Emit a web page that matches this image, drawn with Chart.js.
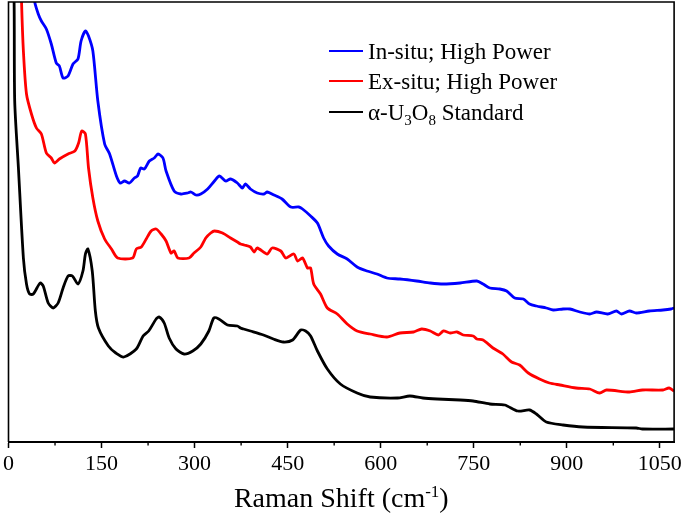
<!DOCTYPE html>
<html>
<head>
<meta charset="utf-8">
<script src="https://cdn.jsdelivr.net/npm/chart.js@4.4.1/dist/chart.umd.min.js"></script>
<style>
  html, body { margin:0; padding:0; background:#fff; }
  #wrap { width:685px; height:517px; }
</style>
</head>
<body>
<div id="wrap"><canvas id="chart" width="685" height="517"></canvas></div>
<script>
// Raman shift (cm-1) and intensity (arb. units)
const insituX = [30,42,48,53,61,69,77,82,88,96,104,112,117,124,129,136,144,155,163,174,180,187,195,203,208,213,219,227,235,241,249,254,267,278,289,294,302,310,321,332,340,350,358,369,377,382,390,401,412,417,428,441,455,468,474,487,498,508,516,530,546,562,578,594,610,631,658,680,701,728,755,765,776,792,803,816,830,840,851,867,878,894,905,921,937,948,966,980,988,1001,1012,1033,1055,1068,1073];
const insituY = [520,441,428,421,413,398,379,376,364,366,378,383,401,411,406,391,341,298,288,266,259,261,259,264,266,274,273,281,284,288,284,271,251,248,249,250,247,248,253,261,266,261,263,259,254,258,253,249,248,250,247,243,235,235,233,226,219,204,196,188,183,175,171,168,164,163,161,159,158,159,161,158,154,153,151,144,143,138,136,134,132,133,133,130,128,130,128,131,128,131,129,131,132,133,134];

const exsituX = [18,21,24,29,37,45,53,61,69,74,82,96,107,113,118,124,129,136,144,155,166,176,200,206,214,222,230,238,246,254,262,267,273,291,299,310,318,326,332,345,358,369,374,380,390,396,401,417,425,439,447,460,466,474,482,487,492,503,514,530,546,562,583,610,631,653,666,680,693,701,712,723,733,749,755,765,781,797,811,824,838,856,872,889,915,937,953,964,1001,1022,1055,1065,1073];
const exsituY = [520,441,391,348,328,314,308,289,284,279,283,288,291,299,311,308,274,244,221,203,193,184,184,193,195,203,211,213,208,201,189,191,184,184,189,195,204,209,211,209,204,200,198,197,195,190,194,188,194,191,184,188,181,184,174,174,158,148,134,128,118,111,108,105,109,110,113,111,107,111,109,110,107,106,103,102,94,88,80,77,69,63,59,57,54,53,49,52,50,52,52,54,51];

const standardX = [4,9,10,16,24,29,34,40,51,56,64,72,80,88,96,103,112,120,124,128,135,140,145,161,173,186,206,217,226,238,243,251,259,270,283,297,310,323,331,339,353,369,374,379,390,411,427,443,458,471,479,487,498,514,535,562,583,627,647,668,691,728,749,776,800,821,840,851,867,894,926,1012,1022,1073];
const standardY = [560,441,341,274,184,158,148,148,159,156,139,134,139,154,166,166,158,171,188,193,171,131,114,96,89,85,93,106,111,123,125,119,104,93,88,91,98,111,124,123,117,116,114,113,111,107,103,100,102,112,111,106,91,73,58,49,45,44,46,44,43,42,41,38,37,31,32,28,20,17,15,14,13,13];

const seriesLabels = ['In-situ; High Power', 'Ex-situ; High Power', 'α-U3O8 Standard'];
const seriesColors = ['#0000ff', '#ff0000', '#000000'];
const xTicks = [0,150,300,450,600,750,900,1050];
const xMinorTicks = [75,225,375,525,675,825,975];

// legend text pieces: [text, isSubscript]
const legendParts = [
  [['In-situ; High Power', false]],
  [['Ex-situ; High Power', false]],
  [['α-U', false], ['3', true], ['O', false], ['8', true], [' Standard', false]]
];

function pairs(xs, ys){ return xs.map((x,i)=>({x:x, y:ys[i]})); }

const SERIF = '"Liberation Serif", "Times New Roman", serif';

const framePlugin = {
  id: 'frame',
  afterDraw(chart){
    const {ctx, chartArea:a, scales:{x}} = chart;
    ctx.save();
    ctx.strokeStyle = '#000';
    ctx.lineWidth = 1.6;
    ctx.beginPath();
    ctx.moveTo(a.left, a.bottom);
    ctx.lineTo(a.left, a.top);
    ctx.lineTo(a.right, a.top);
    ctx.lineTo(a.right, a.bottom);
    ctx.stroke();
    // minor ticks
    ctx.lineWidth = 1.4;
    xMinorTicks.forEach(v=>{
      const px = x.getPixelForValue(v);
      ctx.beginPath();
      ctx.moveTo(px, a.bottom);
      ctx.lineTo(px, a.bottom + 3.5);
      ctx.stroke();
    });
    // axis title with superscript
    const cx = (a.left + a.right) / 2;
    const base = 507;
    const big = '28px ' + SERIF, small = '17px ' + SERIF;
    ctx.fillStyle = '#000';
    ctx.textBaseline = 'alphabetic';
    ctx.textAlign = 'left';
    ctx.font = big;
    const t1 = 'Raman Shift (cm', t3 = ')';
    const w1 = ctx.measureText(t1).width, w3 = ctx.measureText(t3).width;
    ctx.font = small;
    const t2 = '-1';
    const w2 = ctx.measureText(t2).width;
    let sx = cx - (w1 + w2 + w3) / 2;
    ctx.font = big; ctx.fillText(t1, sx, base); sx += w1;
    ctx.font = small; ctx.fillText(t2, sx, base - 10); sx += w2;
    ctx.font = big; ctx.fillText(t3, sx, base);
    // legend
    const rowsY = [51, 81, 112];
    chart.data.datasets.forEach((ds, i)=>{
      const y = rowsY[i];
      ctx.strokeStyle = ds.borderColor;
      ctx.lineWidth = 2.2;
      ctx.beginPath();
      ctx.moveTo(329, y);
      ctx.lineTo(363, y);
      ctx.stroke();
      let tx = 368;
      legendParts[i].forEach(([txt, sub])=>{
        ctx.font = (sub ? '15px ' : '23px ') + SERIF;
        ctx.fillStyle = '#000';
        ctx.fillText(txt, tx, y + 8 + (sub ? 5 : 0));
        tx += ctx.measureText(txt).width;
      });
    });
    ctx.restore();
  }
};

new Chart(document.getElementById('chart'), {
  type: 'line',
  data: {
    datasets: [
      { label: seriesLabels[0], data: pairs(insituX, insituY), borderColor: seriesColors[0] },
      { label: seriesLabels[1], data: pairs(exsituX, exsituY), borderColor: seriesColors[1] },
      { label: seriesLabels[2], data: pairs(standardX, standardY), borderColor: seriesColors[2] }
    ]
  },
  options: {
    responsive: false,
    animation: false,
    layout: { padding: { left: 6, right: 10, top: 2, bottom: 0 } },
    elements: {
      point: { radius: 0 },
      line: { borderWidth: 2.8, tension: 0.25, fill: false }
    },
    plugins: { legend: { display: false }, tooltip: { enabled: false } },
    scales: {
      x: {
        type: 'linear',
        min: 0,
        max: 1073,
        afterBuildTicks: (s)=>{ s.ticks = xTicks.map(v=>({ value: v })); },
        afterFit: (s)=>{ s.height = 75; },
        grid: { display: true, drawOnChartArea: false, drawTicks: true, tickLength: 6, tickWidth: 1.5, tickColor: '#000' },
        border: { display: true, color: '#000', width: 2 },
        ticks: { color: '#000', padding: 3, maxRotation: 0, autoSkip: false, font: { family: SERIF, size: 22 },
                 callback: (v)=> String(v) }
      },
      y: {
        display: false,
        min: 0,
        max: 440
      }
    }
  },
  plugins: [framePlugin]
});
</script>
</body>
</html>
